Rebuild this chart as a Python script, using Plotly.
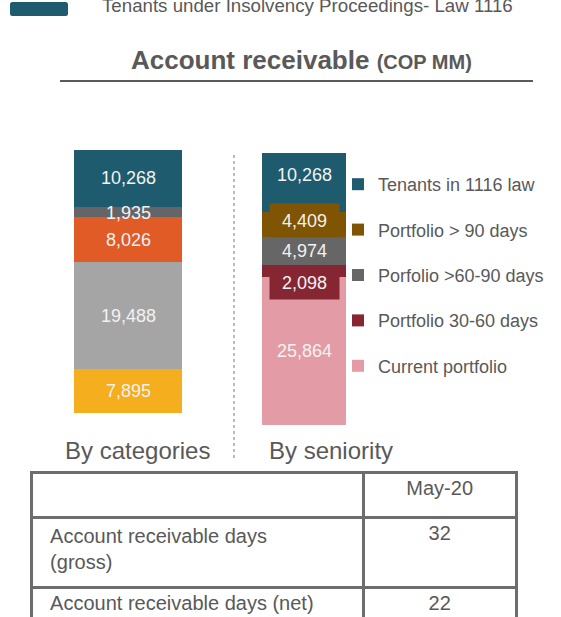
import plotly.graph_objects as go

W, H = 561, 617
FONT = "Arial, Liberation Sans, sans-serif"
GRAY_TEXT = "#595959"

# Data

# By categories (bottom -> top)
cat_names = ["Category A", "Category B", "Category C", "Category D", "Tenants in 1116 law"]
cat_values = [7895, 19488, 8026, 1935, 10268]
cat_colors = ["#f4ae1e", "#a5a5a5", "#e15b27", "#646569", "#1e5b6f"]

# By seniority (bottom -> top)
sen_names = ["Current portfolio", "Portfolio 30-60 days", "Porfolio >60-90 days",
             "Portfolio > 90 days", "Tenants in 1116 law"]
sen_values = [25864, 2098, 4974, 4409, 10268]
sen_colors = ["#e39ca6", "#862633", "#666666", "#7f5403", "#1e5b6f"]

group_labels = ["By categories", "By seniority"]

table_header = ["", "May-20"]
table_rows = ["Account receivable days<br>(gross)", "Account receivable days (net)"]
table_values = ["32", "22"]


def px_x(v):
    return v / W


def px_y(v):
    return 1 - v / H


fig = go.Figure()

# Left stacked bar
for name, val, col in zip(cat_names, cat_values, cat_colors):
    fig.add_trace(go.Bar(
        x=[0], y=[val], width=1, name=name, marker=dict(color=col, line=dict(width=0)),
        xaxis="x", yaxis="y", showlegend=False,
        hovertemplate=f"{name}: %{{y:,}}<extra></extra>",
    ))

# Right stacked bar (with legend, top segment listed first)
n = len(sen_names)
for i, (name, val, col) in enumerate(zip(sen_names, sen_values, sen_colors)):
    fig.add_trace(go.Bar(
        x=[0], y=[val], width=1, name=name, marker=dict(color=col, line=dict(width=0)),
        xaxis="x2", yaxis="y2", legendgroup=name, legendrank=n - i,
        hovertemplate=f"{name}: %{{y:,}}<extra></extra>",
    ))

# Segment labels, placed at the middle of each stacked segment
annotations = []


def seg_labels(values, colors, xref, yref, shifts, boxed):
    base = 0
    for i, (v, c) in enumerate(zip(values, colors)):
        mid = base + v / 2
        base += v
        a = dict(
            x=0, y=mid, xref=xref, yref=yref, text=f"{v:,}", showarrow=False,
            xanchor="center", yanchor="middle",
            font=dict(family=FONT, size=18, color="#f2f2f2"), yshift=shifts[i],
        )
        if boxed[i]:
            a.update(bgcolor=c, width=67, height=31)
        annotations.append(a)


seg_labels(cat_values, cat_colors, "x", "y", [0, 0, 0, -1, 0], [False] * 5)
seg_labels(sen_values, sen_colors, "x2", "y2", [0, -11, 0, 4, 7],
           [False, True, False, True, False])

# Group labels under the bars
for lbl, cx in zip(group_labels, [137, 331]):
    annotations.append(dict(
        x=px_x(cx), y=px_y(450), xref="paper", yref="paper", text=lbl, showarrow=False,
        xanchor="center", yanchor="middle",
        font=dict(family=FONT, size=24, color=GRAY_TEXT),
    ))

# Title
annotations.append(dict(
    x=px_x(301), y=px_y(60), xref="paper", yref="paper", showarrow=False,
    xanchor="center", yanchor="middle",
    text="<b>Account receivable</b> <b><span style='font-size:20px'>(COP MM)</span></b>",
    font=dict(family=FONT, size=26, color=GRAY_TEXT),
))

# Cropped legend entry at the top
annotations.append(dict(
    x=px_x(100), y=px_y(5.5), xref="paper", yref="paper", xanchor="left", yanchor="middle",
    showarrow=False, text="Tenants under Insolvency Proceedings- Law 1116",
    font=dict(family=FONT, size=18.7, color=GRAY_TEXT),
))

# rounded swatch for the cropped legend entry
sx0, sx1, sy0, sy1, r = px_x(10), px_x(68), px_y(16), px_y(2), 2.5
rx, ry = r / W, r / H
swatch = (f"M{sx0 + rx},{sy0} L{sx1 - rx},{sy0} Q{sx1},{sy0} {sx1},{sy0 + ry} "
          f"L{sx1},{sy1 - ry} Q{sx1},{sy1} {sx1 - rx},{sy1} L{sx0 + rx},{sy1} "
          f"Q{sx0},{sy1} {sx0},{sy1 - ry} L{sx0},{sy0 + ry} Q{sx0},{sy0} {sx0 + rx},{sy0} Z")

shapes = [
    # title underline
    dict(type="line", xref="paper", yref="paper", x0=px_x(60), x1=px_x(533),
         y0=px_y(81), y1=px_y(81), line=dict(color="#5a5a5a", width=2)),
    # dotted separator
    dict(type="line", xref="paper", yref="paper", x0=px_x(234), x1=px_x(234),
         y0=px_y(155), y1=px_y(458), line=dict(color="#a6a6a6", width=1.5, dash="dot")),
    dict(type="path", xref="paper", yref="paper", path=swatch,
         fillcolor="#1e5b6f", line=dict(width=0)),
]

# Table
fig.add_trace(go.Table(
    domain=dict(x=[px_x(31), px_x(517)], y=[0, px_y(472)]),
    columnwidth=[333, 153],
    header=dict(
        values=table_header, height=45, align=["left", "center"],
        fill_color="white", line=dict(color="#6d6d6d", width=3),
        font=dict(family=FONT, size=20, color=GRAY_TEXT),
    ),
    cells=dict(
        values=[["\u00a0\u00a0" + r.replace("<br>", "<br>\u00a0\u00a0") for r in table_rows],
                table_values],
        height=70, align=["left", "center"],
        fill_color="white", line=dict(color="#6d6d6d", width=3),
        font=dict(family=FONT, size=20, color=GRAY_TEXT),
    ),
))

hidden = dict(visible=False, fixedrange=True)
fig.update_layout(
    width=W, height=H,
    margin=dict(l=0, r=0, t=0, b=0),
    paper_bgcolor="white", plot_bgcolor="white",
    barmode="stack",
    xaxis=dict(domain=[px_x(74), px_x(182)], range=[-0.5, 0.5], **hidden),
    yaxis=dict(domain=[px_y(413), px_y(150)], range=[0, sum(cat_values)], **hidden),
    xaxis2=dict(domain=[px_x(262), px_x(346)], range=[-0.5, 0.5], anchor="y2", **hidden),
    yaxis2=dict(domain=[px_y(425), px_y(153)], range=[0, sum(sen_values)], anchor="x2", **hidden),
    legend=dict(
        x=px_x(338), y=px_y(166), xanchor="left", yanchor="top",
        traceorder="grouped", tracegroupgap=19,
        font=dict(family=FONT, size=18, color=GRAY_TEXT),
        itemwidth=30, bgcolor="rgba(0,0,0,0)",
    ),
    annotations=annotations,
    shapes=shapes,
)

# the page body has a default 8px margin; drop it so the figure sits at the corner
fig.write_html(
    "out.html",
    config={"displayModeBar": False},
    post_script="document.body.style.margin='0';",
)
